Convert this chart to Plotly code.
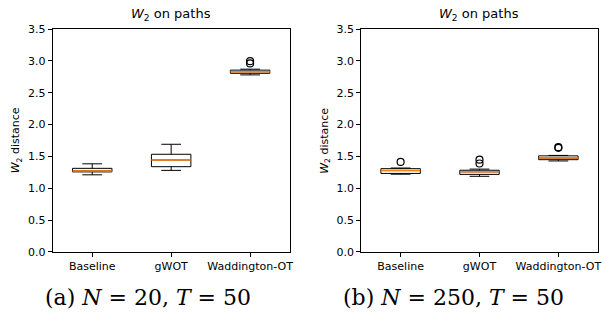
import plotly.graph_objects as go

methods = ["Baseline", "gWOT", "Waddington-OT"]
xpos = [1, 2, 3]

# Panel (a): N=20, T=50
a_low = [1.21, 1.28, 2.78]
a_q1 = [1.256, 1.338, 2.805]
a_med = [1.27, 1.443, 2.83]
a_q3 = [1.312, 1.533, 2.855]
a_high = [1.383, 1.69, 2.87]
a_out_x = [3, 3]
a_out_y = [2.96, 2.995]

# Panel (b): N=250, T=50
b_low = [1.22, 1.187, 1.428]
b_q1 = [1.232, 1.217, 1.448]
b_med = [1.277, 1.257, 1.473]
b_q3 = [1.307, 1.282, 1.508]
b_high = [1.317, 1.30, 1.515]
b_out_x = [1, 2, 2, 3, 3]
b_out_y = [1.413, 1.388, 1.448, 1.635, 1.645]

yticks = [0.0, 0.5, 1.0, 1.5, 2.0, 2.5, 3.0, 3.5]
ytick_text = ["0.0", "0.5", "1.0", "1.5", "2.0", "2.5", "3.0", "3.5"]

fig = go.Figure()

def add_panel(xa, ya, low, q1, med, q3, high, ox, oy):
    fig.add_trace(go.Box(x=xpos, q1=q1, median=med, q3=q3, lowerfence=low, upperfence=high,
                         width=0.5, whiskerwidth=0.5, fillcolor="rgba(0,0,0,0)",
                         line=dict(color="black", width=1), xaxis=xa, yaxis=ya,
                         showlegend=False, hoverinfo="skip"))
    fig.add_trace(go.Box(x=xpos, q1=med, median=med, q3=med, lowerfence=med, upperfence=med,
                         width=0.5, whiskerwidth=0, fillcolor="rgba(0,0,0,0)",
                         line=dict(color="#ff7f0e", width=1.5), xaxis=xa, yaxis=ya,
                         showlegend=False, hoverinfo="skip"))
    fig.add_trace(go.Scatter(x=ox, y=oy, mode="markers", xaxis=xa, yaxis=ya,
                             marker=dict(symbol="circle-open", size=7, color="black",
                                         line=dict(width=1.2)),
                             showlegend=False, hoverinfo="skip"))

add_panel("x", "y", a_low, a_q1, a_med, a_q3, a_high, a_out_x, a_out_y)
add_panel("x2", "y2", b_low, b_q1, b_med, b_q3, b_high, b_out_x, b_out_y)

axis_common = dict(showline=True, linecolor="black", linewidth=1, mirror=True,
                   ticks="outside", ticklen=4, tickcolor="black", showgrid=False,
                   zeroline=False, tickfont=dict(family="DejaVu Sans", size=11, color="black"))

fig.update_layout(
    width=605, height=329,
    margin=dict(l=0, r=0, t=0, b=0),
    paper_bgcolor="white", plot_bgcolor="white",
    boxmode="overlay",
    xaxis=dict(domain=[0.0876, 0.481], range=[0.5, 3.5], tickvals=xpos, ticktext=methods,
               anchor="y", **axis_common),
    yaxis=dict(domain=[0.222, 0.927], range=[0, 3.5], tickvals=yticks, ticktext=ytick_text,
               anchor="x", **axis_common),
    xaxis2=dict(domain=[0.6, 0.993], range=[0.5, 3.5], tickvals=xpos, ticktext=methods,
                anchor="y2", **axis_common),
    yaxis2=dict(domain=[0.222, 0.927], range=[0, 3.5], tickvals=yticks, ticktext=ytick_text,
                anchor="x2", **axis_common),
)

title_font = dict(family="DejaVu Sans", size=13, color="black")
label_font = dict(family="DejaVu Sans", size=11, color="black")
cap_font = dict(family="DejaVu Serif", size=22, color="black")

for xc in [(0.0876 + 0.481) / 2, (0.6 + 0.993) / 2]:
    fig.add_annotation(x=xc, y=0.927, xref="paper", yref="paper", yanchor="bottom",
                       xanchor="center", yshift=4, showarrow=False,
                       text="<i>W</i><sub>2</sub> on paths", font=title_font)

for xl in [17 / 605, 327 / 605]:
    fig.add_annotation(x=xl, y=(0.222 + 0.927) / 2, xref="paper", yref="paper",
                       xanchor="center", yanchor="middle",
                       showarrow=False, textangle=-90,
                       text="<i>W</i><sub>2</sub> distance", font=label_font)

captions = ["(a) <i>N</i> = 20, <i>T</i> = 50", "(b) <i>N</i> = 250, <i>T</i> = 50"]
for xc, t in zip([149 / 605, 456 / 605], captions):
    fig.add_annotation(x=xc, y=1 - 303 / 329, xref="paper", yref="paper",
                       xanchor="center", yanchor="middle",
                       showarrow=False, text=t, font=cap_font)

fig.write_html("out.html")
